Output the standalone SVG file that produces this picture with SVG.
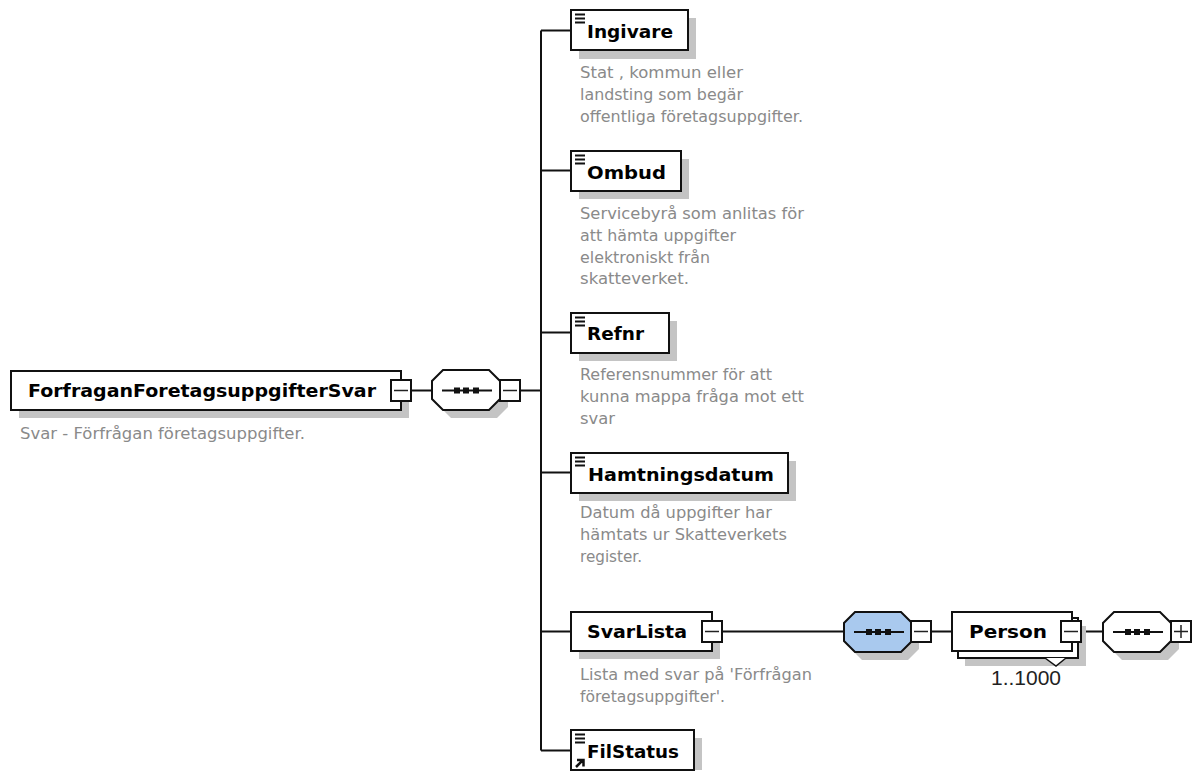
<svg xmlns="http://www.w3.org/2000/svg" width="1193" height="773" viewBox="0 0 1193 773">
<style>
.bx{fill:#fff;stroke:#111;stroke-width:2}
.sh{fill:#c4c4c4}
.t{font-family:"DejaVu Sans",sans-serif;font-weight:700;font-size:18.500px;fill:#000}
.d{font-family:"DejaVu Sans",sans-serif;font-size:15px;fill:#8a8a8a}
.btn{fill:#fff;stroke:#111;stroke-width:2}
.l{fill:none;stroke:#111;stroke-width:2}
.ic{fill:none;stroke:#222;stroke-width:1.500}
.oc{fill:#fff;stroke:#111;stroke-width:2}
.dot{fill:#111}
</style>
<defs>
<g id="bars"><path fill="none" stroke="#111" stroke-width="2" d="M0 0.500h10M0 4.500h10M0 8.500h10"/></g>
<g id="minus"><rect class="btn" x="0" y="0" width="20" height="21"/><path class="ic" d="M3 10.500h14"/></g>
<g id="plus"><rect class="btn" x="0" y="0" width="20" height="21"/><path class="ic" d="M3 10.500h14M10 4v13"/></g>
<path id="octa" d="M11 0h46l11 11v18l-11 11h-46l-11-11v-18z"/>
<g id="seq"><path class="l" d="M10 20h50"/><rect class="dot" x="22" y="17" width="6" height="6"/><rect class="dot" x="31" y="17" width="6" height="6"/><rect class="dot" x="41" y="17" width="6" height="6"/></g>
</defs>
<g id="connectors">
<path class="l" d="M411 390.500h21M520 390.500h21M541 30.500V750.500M541 30.500h30M541 170.500h30M541 332.500h30M541 472.500h30M541 631.500h30M541 750.500h30M722 631.500h122M931 631.500h21M1081 631.500h22"/>
</g>
<g id="root">
<rect class="sh" x="19" y="379" width="390" height="39"/>
<rect class="bx" x="11" y="371" width="390" height="39"/>
<text class="t" x="28" y="397" textLength="348" lengthAdjust="spacingAndGlyphs">ForfraganForetagsuppgifterSvar</text>
<use href="#minus" x="391" y="380"/>
<text class="d" x="20" y="439" textLength="285" lengthAdjust="spacingAndGlyphs">Svar - Förfrågan företagsuppgifter.</text>
</g>
<g id="seq1">
<use href="#octa" class="sh" x="440" y="378"/>
<use href="#octa" class="oc" x="432" y="370"/>
<use href="#seq" x="432" y="370.500"/>
<use href="#minus" x="500" y="380"/>
</g>
<g id="ingivare">
<rect class="sh" x="579" y="18" width="117" height="41"/>
<rect class="bx" x="571" y="10" width="117" height="40"/>
<use href="#bars" x="575" y="14"/>
<text class="t" x="587" y="38" textLength="86" lengthAdjust="spacingAndGlyphs">Ingivare</text>
<text class="d" x="580" y="78" textLength="163" lengthAdjust="spacingAndGlyphs">Stat , kommun eller</text>
<text class="d" x="580" y="100" textLength="163" lengthAdjust="spacingAndGlyphs">landsting som begär</text>
<text class="d" x="580" y="122" textLength="223" lengthAdjust="spacingAndGlyphs">offentliga företagsuppgifter.</text>
</g>
<g id="ombud">
<rect class="sh" x="579" y="159" width="110" height="40"/>
<rect class="bx" x="571" y="151" width="110" height="40"/>
<use href="#bars" x="575" y="155"/>
<text class="t" x="587" y="179" textLength="79" lengthAdjust="spacingAndGlyphs">Ombud</text>
<text class="d" x="580" y="219" textLength="224" lengthAdjust="spacingAndGlyphs">Servicebyrå som anlitas för</text>
<text class="d" x="580" y="241" textLength="156" lengthAdjust="spacingAndGlyphs">att hämta uppgifter</text>
<text class="d" x="580" y="263" textLength="130" lengthAdjust="spacingAndGlyphs">elektroniskt från</text>
<text class="d" x="580" y="284" textLength="109" lengthAdjust="spacingAndGlyphs">skatteverket.</text>
</g>
<g id="refnr">
<rect class="sh" x="579" y="321" width="98" height="40"/>
<rect class="bx" x="571" y="313" width="98" height="40"/>
<use href="#bars" x="575" y="317"/>
<text class="t" x="587" y="340" textLength="57" lengthAdjust="spacingAndGlyphs">Refnr</text>
<text class="d" x="580" y="380" textLength="192" lengthAdjust="spacingAndGlyphs">Referensnummer för att</text>
<text class="d" x="580" y="402" textLength="224" lengthAdjust="spacingAndGlyphs">kunna mappa fråga mot ett</text>
<text class="d" x="580" y="424" textLength="35" lengthAdjust="spacingAndGlyphs">svar</text>
</g>
<g id="hamtningsdatum">
<rect class="sh" x="579" y="461" width="217" height="40"/>
<rect class="bx" x="571" y="453" width="217" height="40"/>
<use href="#bars" x="575" y="457"/>
<text class="t" x="588" y="481" textLength="186" lengthAdjust="spacingAndGlyphs">Hamtningsdatum</text>
<text class="d" x="580" y="518" textLength="192" lengthAdjust="spacingAndGlyphs">Datum då uppgifter har</text>
<text class="d" x="580" y="540" textLength="207" lengthAdjust="spacingAndGlyphs">hämtats ur Skatteverkets</text>
<text class="d" x="580" y="562" textLength="62" lengthAdjust="spacingAndGlyphs">register.</text>
</g>
<g id="svarlista">
<rect class="sh" x="579" y="620" width="141" height="39"/>
<rect class="bx" x="571" y="612" width="141" height="39"/>
<text class="t" x="587" y="638" textLength="100" lengthAdjust="spacingAndGlyphs">SvarLista</text>
<use href="#minus" x="702" y="621"/>
<text class="d" x="580" y="680" textLength="232" lengthAdjust="spacingAndGlyphs">Lista med svar på 'Förfrågan</text>
<text class="d" x="580" y="702" textLength="145" lengthAdjust="spacingAndGlyphs">företagsuppgifter'.</text>
</g>
<g id="filstatus">
<rect class="sh" x="579" y="738" width="123" height="32"/>
<rect class="bx" x="571" y="730" width="123" height="40"/>
<use href="#bars" x="575" y="734"/>
<path d="M576 767l7-7m-6 0h6.500v6.500" fill="none" stroke="#111" stroke-width="2.500"/>
<text class="t" x="587" y="758" textLength="92" lengthAdjust="spacingAndGlyphs">FilStatus</text>
</g>
<g id="seq2">
<use href="#octa" class="sh" x="851" y="620"/>
<use href="#octa" fill="#a9c9ee" stroke="#111" stroke-width="2" x="844" y="612"/>
<use href="#seq" x="844" y="612"/>
<use href="#minus" x="911" y="621"/>
</g>
<g id="person">
<rect class="sh" x="965" y="626" width="121" height="40"/>
<rect class="bx" x="958" y="618" width="120" height="40"/>
<rect class="bx" x="952" y="612" width="120" height="39"/>
<path d="M1045 658l11 8 10-8" fill="#fff" stroke="#111" stroke-width="1.500"/>
<text class="t" x="969" y="638" textLength="78" lengthAdjust="spacingAndGlyphs">Person</text>
<use href="#minus" x="1061" y="621"/>
<text x="991" y="685" font-family="'Liberation Sans',Arial,sans-serif" font-size="20" fill="#222" textLength="70" lengthAdjust="spacingAndGlyphs">1..1000</text>
</g>
<g id="seq3">
<use href="#octa" class="sh" x="1111" y="620"/>
<use href="#octa" class="oc" x="1103" y="612"/>
<use href="#seq" x="1103" y="612"/>
<use href="#plus" x="1171" y="621"/>
</g>
</svg>
